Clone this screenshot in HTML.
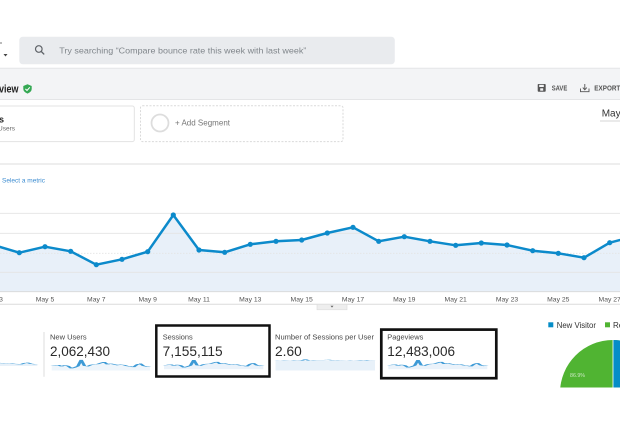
<!DOCTYPE html>
<html><head><meta charset="utf-8"><style>
html,body{margin:0;padding:0;background:#fff;}
body{width:620px;height:430px;overflow:hidden;position:relative;}
svg{position:absolute;left:0;top:0;}
text{font-family:"Liberation Sans",Arial,sans-serif;}
</style></head><body>
<svg width="620" height="430" viewBox="0 0 620 430" xmlns="http://www.w3.org/2000/svg">
<defs>
  <path id="sparkArea" d="M0,5 L1,3 L2,0 L3,7.7 L4,1.7 L5,6.3 L6,19.7 L7,14.3 L8,6.7 L9,-30 L10,5 L11,7.3 L12,-0.7 L13,-3.7 L14,-5 L15,-12 L16,-17.7 L17,-3.7 L18,-8.3 L19,-3.7 L20,0.3 L21,-2 L22,0 L23,5.7 L24,8.3 L25,12.7 L26,-2.3 L27,-9 L28,5 L29,9 L30,7 L30,32 L0,32 Z"/>
  <path id="sparkLine" d="M0,5 L1,3 L2,0 L3,7.7 L4,1.7 L5,6.3 L6,19.7 L7,14.3 L8,6.7 L9,-30 L10,5 L11,7.3 L12,-0.7 L13,-3.7 L14,-5 L15,-12 L16,-17.7 L17,-3.7 L18,-8.3 L19,-3.7 L20,0.3 L21,-2 L22,0 L23,5.7 L24,8.3 L25,12.7 L26,-2.3 L27,-9 L28,5 L29,9 L30,7"/>
  <clipPath id="pieClip"><rect x="500" y="330" width="120" height="57.5"/></clipPath>
</defs>

<!-- top-left marks -->
<rect x="0" y="42.5" width="2" height="1" fill="#777"/>
<path d="M3.5,54 L7.5,54 L5.5,56.5 Z" fill="#444"/>

<!-- search box -->
<rect x="19.3" y="36.7" width="375.5" height="27.6" rx="3.5" fill="#e9ebee"/>
<circle cx="38.8" cy="49" r="3.3" fill="none" stroke="#5f6368" stroke-width="1.2"/>
<line x1="41.3" y1="51.5" x2="44.2" y2="54.4" stroke="#5f6368" stroke-width="1.3"/>
<text x="59.3" y="53.5" font-size="8.5" fill="#80868b" textLength="247" lengthAdjust="spacingAndGlyphs">Try searching “Compare bounce rate this week with last week”</text>

<!-- header band -->
<rect x="0" y="68" width="620" height="31.5" fill="#f3f4f6"/>
<line x1="0" y1="68.3" x2="620" y2="68.3" stroke="#e4e5e7" stroke-width="1"/>
<line x1="0" y1="99.5" x2="620" y2="99.5" stroke="#e4e5e7" stroke-width="1"/>
<text x="-1" y="92.5" font-size="11" font-weight="bold" fill="#222" textLength="19.5" lengthAdjust="spacingAndGlyphs">view</text>
<path d="M27.5,84.3 L31.7,86 L31.7,89 Q31.6,92 27.5,93.6 Q23.4,92 23.3,89 L23.3,86 Z" fill="#34a853"/>
<path d="M25.4,88.9 L27,90.5 L29.8,87.3" fill="none" stroke="#fff" stroke-width="1.1"/>

<!-- save icon -->
<rect x="537.7" y="84" width="8" height="7.7" rx="0.8" fill="#555"/>
<rect x="539.2" y="84.8" width="4.6" height="2.2" fill="#f3f4f6"/>
<rect x="540.2" y="88.3" width="3" height="2.4" fill="#f3f4f6"/>
<text x="551.7" y="90.6" font-size="7" font-weight="bold" fill="#555" textLength="15.6" lengthAdjust="spacingAndGlyphs">SAVE</text>
<!-- export icon -->
<path d="M580.5,88.5 L580.5,91.7 L589,91.7 L589,88.5" fill="none" stroke="#555" stroke-width="0.9"/>
<line x1="584.8" y1="84" x2="584.8" y2="89.5" stroke="#555" stroke-width="0.9"/>
<path d="M582.8,87.6 L584.8,89.8 L586.8,87.6" fill="none" stroke="#555" stroke-width="0.9"/>
<text x="594.3" y="90.6" font-size="7" font-weight="bold" fill="#555" textLength="26" lengthAdjust="spacingAndGlyphs">EXPORT</text>

<!-- segments -->
<rect x="-2" y="106" width="136.3" height="35.6" rx="2" fill="#fff" stroke="#e3e3e3" stroke-width="1"/>
<text x="-1" y="122.3" font-size="9" font-weight="bold" fill="#222">s</text>
<text x="-2" y="130.6" font-size="6.5" fill="#666" textLength="17" lengthAdjust="spacingAndGlyphs">Users</text>
<rect x="140.5" y="105.8" width="202.5" height="35.8" rx="2" fill="#fff" stroke="#dadada" stroke-width="1" stroke-dasharray="2,1.5"/>
<circle cx="160" cy="123" r="8.5" fill="none" stroke="#ddd" stroke-width="1.8"/>
<text x="175" y="125.5" font-size="8" fill="#777" textLength="55" lengthAdjust="spacingAndGlyphs">+ Add Segment</text>
<text x="601.7" y="116.3" font-size="10" fill="#333">May</text>
<line x1="600" y1="121" x2="620" y2="121" stroke="#d5d5d5" stroke-width="1"/>

<!-- chart frame -->
<line x1="0" y1="164" x2="620" y2="164" stroke="#dcdcdc" stroke-width="1"/>
<text x="2" y="182.3" font-size="6.4" fill="#3b8bd0" textLength="43" lengthAdjust="spacingAndGlyphs">Select a metric</text>

<!-- area fill -->
<polygon points="-6.3,245 19.3,252.7 45,246.7 70.7,251.3 96.3,264.7 122,259.3 147.7,251.7 173.3,215 199,250 224.7,252.3 250.3,244.3 276,241.3 301.7,240 327.3,233 353,227.3 378.7,241.3 404.3,236.7 430,241.3 455.7,245.3 481.3,243 507,245 532.7,250.7 558.3,253.3 584,257.7 609.7,242.7 635.3,236 635.3,291.7 -6.3,291.7" fill="#e8f0f9"/>
<!-- gridlines -->
<g stroke="#e4e4e4" stroke-width="0.8">
  <line x1="0" y1="213.3" x2="620" y2="213.3"/>
  <line x1="0" y1="233.3" x2="620" y2="233.3"/>
  <line x1="0" y1="253.3" x2="620" y2="253.3" stroke-dasharray="1.5,1.5"/>
  <line x1="0" y1="272.3" x2="620" y2="272.3"/>
  <line x1="0" y1="291.7" x2="620" y2="291.7" stroke="#d8d8d8"/>
</g>
<polyline points="-6.3,245 19.3,252.7 45,246.7 70.7,251.3 96.3,264.7 122,259.3 147.7,251.7 173.3,215 199,250 224.7,252.3 250.3,244.3 276,241.3 301.7,240 327.3,233 353,227.3 378.7,241.3 404.3,236.7 430,241.3 455.7,245.3 481.3,243 507,245 532.7,250.7 558.3,253.3 584,257.7 609.7,242.7 635.3,236" fill="none" stroke="#0c8acb" stroke-width="2.5" stroke-linejoin="round"/>
<g fill="#0c8acb">
  <circle cx="19.3" cy="252.7" r="2.6"/><circle cx="45" cy="246.7" r="2.6"/><circle cx="70.7" cy="251.3" r="2.6"/>
  <circle cx="96.3" cy="264.7" r="2.6"/><circle cx="122" cy="259.3" r="2.6"/><circle cx="147.7" cy="251.7" r="2.6"/>
  <circle cx="173.3" cy="215" r="2.6"/><circle cx="199" cy="250" r="2.6"/><circle cx="224.7" cy="252.3" r="2.6"/>
  <circle cx="250.3" cy="244.3" r="2.6"/><circle cx="276" cy="241.3" r="2.6"/><circle cx="301.7" cy="240" r="2.6"/>
  <circle cx="327.3" cy="233" r="2.6"/><circle cx="353" cy="227.3" r="2.6"/><circle cx="378.7" cy="241.3" r="2.6"/>
  <circle cx="404.3" cy="236.7" r="2.6"/><circle cx="430" cy="241.3" r="2.6"/><circle cx="455.7" cy="245.3" r="2.6"/>
  <circle cx="481.3" cy="243" r="2.6"/><circle cx="507" cy="245" r="2.6"/><circle cx="532.7" cy="250.7" r="2.6"/>
  <circle cx="558.3" cy="253.3" r="2.6"/><circle cx="584" cy="257.7" r="2.6"/><circle cx="609.7" cy="242.7" r="2.6"/>
</g>
<!-- x labels -->
<g font-size="6.8" fill="#555" text-anchor="middle">
  <text x="-6.3" y="301.5">May 3</text>
  <text x="45" y="301.5">May 5</text>
  <text x="96.3" y="301.5">May 7</text>
  <text x="147.7" y="301.5">May 9</text>
  <text x="199" y="301.5">May 11</text>
  <text x="250.3" y="301.5">May 13</text>
  <text x="301.7" y="301.5">May 15</text>
  <text x="353" y="301.5">May 17</text>
  <text x="404.3" y="301.5">May 19</text>
  <text x="455.7" y="301.5">May 21</text>
  <text x="507" y="301.5">May 23</text>
  <text x="558.3" y="301.5">May 25</text>
  <text x="609.7" y="301.5">May 27</text>
</g>
<line x1="0" y1="304.3" x2="620" y2="304.3" stroke="#dcdcdc" stroke-width="1"/>
<rect x="317" y="304.3" width="30" height="5.5" fill="#eeeeee" stroke="#dcdcdc" stroke-width="0.6"/>
<path d="M330.5,305.8 L333.5,305.8 L332,307.6 Z" fill="#666"/>

<!-- sparklines -->
<use href="#sparkArea" transform="translate(-62,363.4) scale(3.31,0.08)" fill="#e8f1f9"/>
<use href="#sparkLine" transform="translate(-62,363.4) scale(3.31,0.08)" fill="none" stroke="#3d9ad6" stroke-width="1" vector-effect="non-scaling-stroke"/>
<line x1="44" y1="332" x2="44" y2="376.7" stroke="#dddddd" stroke-width="1"/>

<text x="50" y="339.5" font-size="7.5" fill="#444" textLength="36.7" lengthAdjust="spacingAndGlyphs">New Users</text>
<text x="50" y="356" font-size="13.5" fill="#2a2a2a" textLength="60" lengthAdjust="spacingAndGlyphs">2,062,430</text>
<use href="#sparkArea" transform="translate(51.7,365) scale(3.277,0.17)" fill="#eef5fb"/>
<use href="#sparkLine" transform="translate(51.7,365) scale(3.277,0.17)" fill="none" stroke="#3d9ad6" stroke-width="1" vector-effect="non-scaling-stroke"/>

<rect x="156.3" y="325.5" width="113.2" height="51" fill="none" stroke="#111" stroke-width="2.5"/>
<text x="162.7" y="339.5" font-size="7.5" fill="#444" textLength="30" lengthAdjust="spacingAndGlyphs">Sessions</text>
<text x="162.7" y="356" font-size="13.5" fill="#2a2a2a" textLength="60" lengthAdjust="spacingAndGlyphs">7,155,115</text>
<use href="#sparkArea" transform="translate(164,364.5) scale(3.31,0.15)" fill="#eaf2fa"/>
<use href="#sparkLine" transform="translate(164,364.5) scale(3.31,0.15)" fill="none" stroke="#3d9ad6" stroke-width="1" vector-effect="non-scaling-stroke"/>

<text x="275" y="339.5" font-size="7.5" fill="#444" textLength="99" lengthAdjust="spacingAndGlyphs">Number of Sessions per User</text>
<text x="275" y="356" font-size="13.5" fill="#2a2a2a" textLength="26.7" lengthAdjust="spacingAndGlyphs">2.60</text>
<rect x="275.5" y="360.3" width="99.5" height="10.2" fill="#e8f1f9"/>
<use href="#sparkLine" transform="translate(275.5,360.3) scale(3.317,0.03)" fill="none" stroke="#3d9ad6" stroke-width="1" vector-effect="non-scaling-stroke"/>

<rect x="381.3" y="329.6" width="115" height="48.6" fill="none" stroke="#111" stroke-width="2.7"/>
<text x="387.3" y="339.5" font-size="7.5" fill="#444" textLength="36" lengthAdjust="spacingAndGlyphs">Pageviews</text>
<text x="387.3" y="356" font-size="13.5" fill="#2a2a2a" textLength="67.7" lengthAdjust="spacingAndGlyphs">12,483,006</text>
<use href="#sparkArea" transform="translate(388.3,364.5) scale(3.3,0.15)" fill="#eaf2fa"/>
<use href="#sparkLine" transform="translate(388.3,364.5) scale(3.3,0.15)" fill="none" stroke="#3d9ad6" stroke-width="1" vector-effect="non-scaling-stroke"/>

<!-- legend -->
<rect x="548.3" y="322.3" width="5" height="5" fill="#058dc7"/>
<text x="556.7" y="327.8" font-size="8" fill="#333" textLength="39.3" lengthAdjust="spacingAndGlyphs">New Visitor</text>
<rect x="605" y="322.3" width="5" height="5" fill="#50b432"/>
<text x="613" y="327.8" font-size="8" fill="#333">Returning Visitor</text>

<!-- pie -->
<g clip-path="url(#pieClip)">
  <circle cx="613" cy="393" r="53" fill="#50b432"/>
  <path d="M613,393 L613,340 A53,53 0 0,1 658.9,419.5 Z" fill="#058dc7"/>
  <line x1="613" y1="393" x2="613" y2="340" stroke="#fff" stroke-width="0.8"/>
</g>
<text x="570" y="377" font-size="5.5" fill="#ffffff" fill-opacity="0.7" textLength="15" lengthAdjust="spacingAndGlyphs">86.9%</text>
</svg>
</body></html>
